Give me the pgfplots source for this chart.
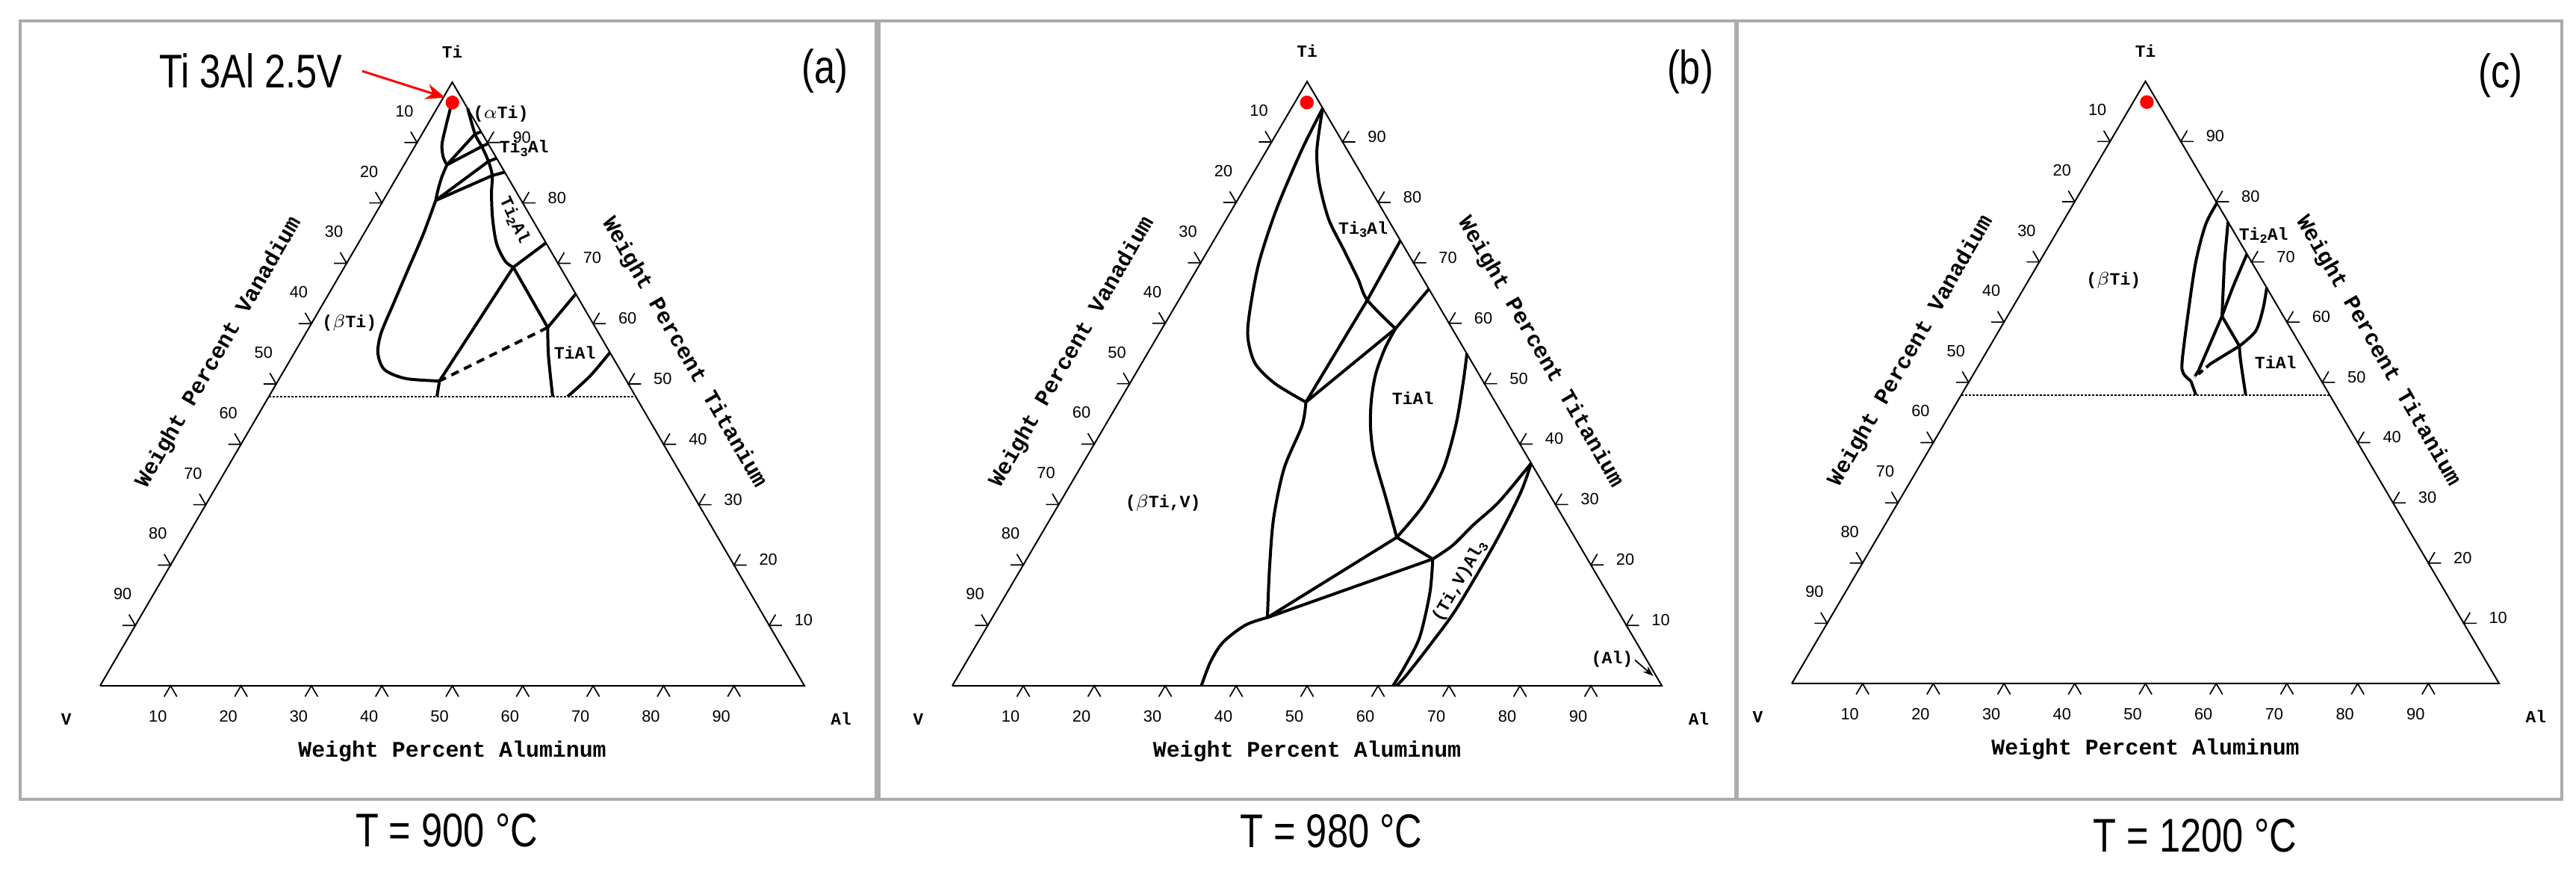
\documentclass[border=0pt]{standalone}
\usepackage{fontspec}
\setmainfont{Liberation Sans}
\newfontfamily\lmono{Liberation Mono}
\newfontfamily\narrow[FakeStretch=0.8]{Liberation Sans}
\usepackage{pgfplots}
\pgfplotsset{compat=1.18}
\usetikzlibrary{arrows.meta}

\pgfplotsset{
  tern/.style={clip=false, axis line style={black!33, line width=0.35mm},
    xtick=\empty, ytick=\empty},
  phase/.style={black, line width=0.4mm, no markers, line join=round},
  edge/.style={black, line width=0.2mm, no markers, line join=miter},
  dotline/.style={black, line width=0.22mm, dash pattern=on 0.25mm off 0.25mm, no markers},
}
\tikzset{
  tk/.style={black, line width=0.17mm},
  tlab/.style={font=\fontsize{6.2}{7}\selectfont, inner sep=0pt},
  vlab/.style={font=\lmono\bfseries\fontsize{6.5}{7}\selectfont},
  atitle/.style={font=\lmono\bfseries\fontsize{8.5}{10}\selectfont, inner sep=0pt},
  plab/.style={font=\lmono\bfseries\fontsize{6.6}{7.5}\selectfont, inner sep=0pt},
  big/.style={font=\narrow\fontsize{18}{20}\selectfont},
}
\newcommand\sbs[1]{\raisebox{-0.35ex}{\fontsize{4.8}{5}\selectfont #1}}

% ticks on the three sides
\newcommand\btick[1]{%
  \draw[tk] (axis cs:#1,0) ++(axis direction cs:-0.9,-1.56) -- (axis cs:#1,0) -- ++(axis direction cs:0.9,-1.56);
  \node[tlab, xshift=-1.7mm, yshift=-4.1mm] at (axis cs:#1,0) {#1};}
\newcommand\ltick[3]{%
  \draw[tk] (axis cs:#1,#2) ++(axis direction cs:-1.8,0) -- (axis cs:#1,#2) -- ++(axis direction cs:-0.9,1.56);
  \node[tlab, xshift=-1.7mm, yshift=4.2mm] at (axis cs:#1,#2) {#3};}
\newcommand\rtick[3]{%
  \draw[tk] (axis cs:#1,#2) ++(axis direction cs:1.8,0) -- (axis cs:#1,#2) -- ++(axis direction cs:0.9,1.56);
  \node[tlab, xshift=4.6mm, yshift=0.7mm] at (axis cs:#1,#2) {#3};}

\newcommand\ternframe{%
  \addplot[edge] coordinates {(0,0) (100,0) (50,86.6) (0,0)};
  \btick{10}\btick{20}\btick{30}\btick{40}\btick{50}\btick{60}\btick{70}\btick{80}\btick{90}
  \ltick{45}{77.94}{10}\ltick{40}{69.28}{20}\ltick{35}{60.62}{30}\ltick{30}{51.96}{40}
  \ltick{25}{43.30}{50}\ltick{20}{34.64}{60}\ltick{15}{25.98}{70}\ltick{10}{17.32}{80}\ltick{5}{8.66}{90}
  \rtick{55}{77.94}{90}\rtick{60}{69.28}{80}\rtick{65}{60.62}{70}\rtick{70}{51.96}{60}
  \rtick{75}{43.30}{50}\rtick{80}{34.64}{40}\rtick{85}{25.98}{30}\rtick{90}{17.32}{20}\rtick{95}{8.66}{10}
  \node[vlab] at (axis cs:50,91) {Ti};
  \node[vlab] at (axis cs:-4.8,-4.8) {V};
  \node[vlab] at (axis cs:105.2,-4.7) {Al};
  \node[atitle] at (axis cs:50,-9.45) {Weight Percent Aluminum};
  \node[atitle, rotate=60] at (axis cs:16.9,47.8) {Weight Percent Vanadium};
  \node[atitle, rotate=-60] at (axis cs:82.9,47.8) {Weight Percent Titanium};
}

\begin{document}
\begin{tikzpicture}
\useasboundingbox (0,0) rectangle (344.9mm,-117mm);

% ---------------- (a) 900 C ----------------
\begin{axis}[tern, at={(2.7mm,-107mm)}, anchor=south west,
  x=0.943mm, y=0.933mm, xmin=-11.35, xmax=110.18, ymin=-16.29, ymax=95.39]
\ternframe
\addplot[phase, smooth] coordinates {(50.05,84.67) (49.77,83.03) (49.07,80.17) (48.54,77.67) (48.71,75.88) (49.24,74.74)};
\addplot[phase, smooth] coordinates {(52.19,82.85) (53.23,79.17) (54.19,77.38) (55.14,75.24) (55.67,73.2) (55.57,70.52) (55.73,66.99) (56.31,63.38) (57.55,60.88) (58.67,60.05)};
\addplot[phase] coordinates {(53.23,79.17) (54.13,79.5)};
\addplot[phase] coordinates {(54.19,77.38) (55.11,77.8)};
\addplot[phase] coordinates {(55.14,75.24) (56.32,75.7)};
\addplot[phase] coordinates {(55.67,73.2) (57.47,73.7)};
\addplot[phase] coordinates {(49.24,74.74) (53.23,79.17)};
\addplot[phase] coordinates {(49.24,74.74) (54.19,77.38)};
\addplot[phase, smooth] coordinates {(49.24,74.74) (48.54,73.06) (48.0,71.24) (47.65,69.64)};
\addplot[phase] coordinates {(47.65,69.64) (55.14,75.24)};
\addplot[phase] coordinates {(47.65,69.64) (55.67,73.2)};
\addplot[phase, smooth] coordinates {(47.65,69.64) (45.89,64.81) (43.76,59.81) (41.64,54.80) (39.87,50.52) (39.45,47.66) (40.40,45.34) (43.40,44.08) (48.18,43.73)};
\addplot[phase] coordinates {(58.67,60.05) (63.33,63.56)};
\addplot[phase] coordinates {(58.67,60.05) (63.55,51.41)};
\addplot[phase] coordinates {(63.55,51.41) (67.55,56.24)};
\addplot[phase] coordinates {(58.67,60.05) (48.18,43.73)};
\addplot[phase, dash pattern=on 1.1mm off 0.8mm] coordinates {(63.55,51.41) (48.18,43.73)};
\addplot[phase, smooth] coordinates {(63.55,51.41) (63.66,47.30) (64.26,41.5)};
\addplot[phase, smooth] coordinates {(66.38,41.5) (69.57,44.45) (72.4,47.83)};
\addplot[phase] coordinates {(48.18,43.73) (47.83,41.5)};
\addplot[dotline] coordinates {(23.97,41.5) (76.05,41.5)};
\node[plab] at (axis cs:56.9,82.1) {($\alpha$Ti)};
\node[plab] at (axis cs:60.2,77.1) {Ti\sbs{3}Al};
\node[plab, rotate=-65] at (axis cs:58.8,66.8) {Ti\sbs{2}Al};
\node[plab] at (axis cs:67.4,47.8) {TiAl};
\node[plab] at (axis cs:35.4,52.1) {($\beta$Ti)};
\addplot[only marks, mark=*, red, mark size=0.85mm] coordinates {(50.02,83.68)};
\draw[red, line width=0.3mm, -{Stealth[length=2.6mm, width=2.1mm]}] (axis cs:37.2,88.2) -- (axis cs:49.0,84.4);
\node[big] at (axis cs:21.4,88.2) {Ti 3Al 2.5V};
\node[big] at (axis cs:102.9,88.2) {(a)};
\node[big] at (axis cs:49.2,-20.8) {T = 900 °C};
\end{axis}

% ---------------- (b) 980 C ----------------
\begin{axis}[tern, at={(117.7mm,-107mm)}, anchor=south west,
  x=0.95mm, y=0.934mm, xmin=-10.32, xmax=110.42, ymin=-16.27, ymax=95.29]
\ternframe
\addplot[phase, smooth] coordinates {(52.2,82.76) (49.28,76.87) (45.69,68.31) (43.17,60.46) (41.87,53.32) (41.67,49.75) (42.69,46.18) (45.46,43.33) (49.83,40.65)};
\addplot[phase, smooth] coordinates {(52.2,82.76) (51.39,76.87) (51.69,72.24) (53.04,66.88) (55.12,62.60) (57.18,58.32) (58.49,55.28) (62.45,51.18)};
\addplot[phase] coordinates {(63.16,63.84) (58.49,55.28) (49.83,40.65)};
\addplot[phase] coordinates {(67.18,56.88) (62.45,51.18) (49.83,40.65)};
\addplot[phase, smooth] coordinates {(62.45,51.18) (60.96,48.32) (59.69,44.75) (59.08,41.19) (58.93,37.26) (59.42,32.98) (61.11,26.91) (62.64,21.27)};
\addplot[phase, smooth] coordinates {(72.53,47.61) (72.0,43.5) (71.0,37.5) (69.23,31.19) (66.37,25.84) (62.64,21.27)};
\addplot[phase, smooth] coordinates {(49.83,40.65) (49.28,37.26) (46.77,31.19) (45.29,24.06) (44.71,16.92) (44.41,9.78)};
\addplot[phase, smooth] coordinates {(44.41,9.78) (41.31,8.70) (38.13,6.21) (36.35,3.35) (35.1,0)};
\addplot[phase] coordinates {(62.64,21.27) (44.41,9.78)};
\addplot[phase] coordinates {(67.71,18.17) (44.41,9.78)};
\addplot[phase] coordinates {(62.64,21.27) (67.71,18.17)};
\addplot[phase, smooth] coordinates {(67.71,18.17) (67.31,13.35) (65.85,6.93) (63.70,2.64) (62.1,0)};
\addplot[phase, smooth] coordinates {(67.71,18.17) (70.53,20.13) (73.36,22.99) (76.89,26.20) (80.45,30.48) (81.59,31.91)};
\addplot[phase, smooth] coordinates {(62.6,0) (64.04,1.57) (67.6,6.21) (71.15,11.21) (76.5,20.48) (80.07,27.62) (81.59,31.91)};
\node[plab] at (axis cs:57.9,65.4) {Ti\sbs{3}Al};
\node[plab] at (axis cs:64.9,41.2) {TiAl};
\node[plab] at (axis cs:29.7,26.2) {($\beta$Ti,V)};
\node[plab, rotate=60] at (axis cs:71.5,15.0) {(Ti,V)Al\sbs{3}};
\node[plab] at (axis cs:93.0,3.8) {(Al)};
\draw[black, line width=0.18mm, -{Stealth[length=1.4mm, width=1mm]}] (axis cs:96.2,3.7) -- (axis cs:98.8,1.4);
\addplot[only marks, mark=*, red, mark size=0.85mm] coordinates {(49.97,83.6)};
\node[big] at (axis cs:104.0,88.0) {(b)};
\node[big] at (axis cs:53.4,-20.8) {T = 980 °C};
\end{axis}

% ---------------- (c) 1200 C ----------------
\begin{axis}[tern, at={(232.6mm,-107mm)}, anchor=south west,
  x=0.947mm, y=0.931mm, xmin=-7.71, xmax=108.87, ymin=-16.65, ymax=95.27]
\ternframe
\addplot[phase, smooth] coordinates {(60.13,69.1) (58.53,66.06) (57.13,60.69) (56.07,53.52) (55.19,46.37) (55.36,44.58) (56.42,43.50)};
\addplot[phase] coordinates {(56.42,43.50) (57.13,41.5)};
\addplot[phase] coordinates {(61.68,66.41) (61.17,60.69) (60.82,52.81)};
\addplot[phase, smooth] coordinates {(60.82,52.81) (62.41,57.11) (64.36,61.76)};
\addplot[phase] coordinates {(60.82,52.81) (63.28,48.52)};
\addplot[phase, smooth] coordinates {(63.28,48.52) (65.58,50.67) (66.63,53.89) (67.15,56.93)};
\addplot[phase, smooth] coordinates {(63.28,48.52) (63.46,46.37) (64.17,41.5)};
\addplot[phase] coordinates {(60.82,52.81) (57.48,44.93)};
\addplot[phase, dash pattern=on 0.8mm off 0.6mm] coordinates {(57.48,44.93) (56.78,43.86)};
\addplot[phase] coordinates {(63.28,48.52) (59.24,46.0)};
\addplot[phase, dash pattern=on 0.8mm off 0.6mm] coordinates {(59.24,46.0) (56.95,44.04)};
\addplot[dotline] coordinates {(23.97,41.5) (76.05,41.5)};
\node[plab] at (axis cs:66.7,64.4) {Ti\sbs{2}Al};
\node[plab] at (axis cs:68.4,46.2) {TiAl};
\node[plab] at (axis cs:45.5,58.0) {($\beta$Ti)};
\addplot[only marks, mark=*, red, mark size=0.85mm] coordinates {(50.2,83.6)};
\node[big] at (axis cs:100.2,87.4) {(c)};
\node[big] at (axis cs:57.0,-21.9) {T = 1200 °C};
\end{axis}
\end{tikzpicture}
\end{document}
